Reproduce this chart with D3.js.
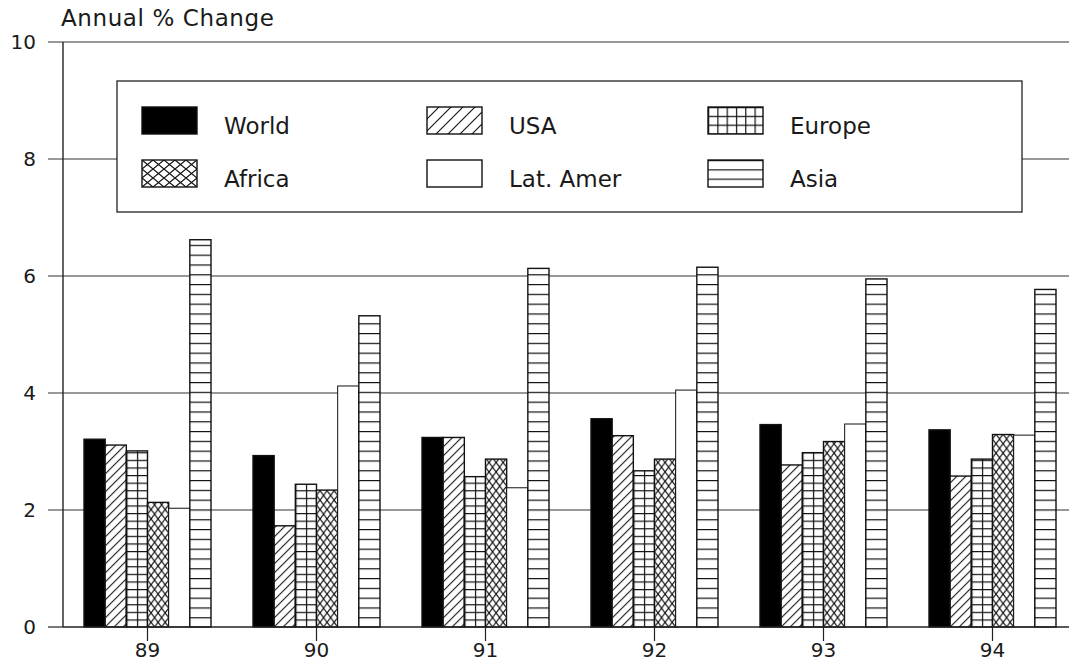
<!DOCTYPE html>
<html>
<head>
<meta charset="utf-8">
<script src="https://cdn.jsdelivr.net/npm/d3@7"></script>
<style>
  html, body { margin: 0; padding: 0; background: #fff; }
  svg { display: block; }
  text { font-family: "DejaVu Sans", Lato, sans-serif; font-weight: 400; fill: #1a1a1a; }
</style>
</head>
<body>
<svg id="chart" width="1069" height="670"></svg>
<script>
// Annual growth (% change) by region, 1989-1994
const years = ["89", "90", "91", "92", "93", "94"];
const series = ["World", "USA", "Europe", "Africa", "Lat. Amer", "Asia"];
const world   = [3.21, 2.93, 3.24, 3.56, 3.46, 3.37];
const usa     = [3.11, 1.73, 3.24, 3.27, 2.77, 2.58];
const europe  = [3.01, 2.44, 2.57, 2.67, 2.98, 2.87];
const africa  = [2.13, 2.34, 2.87, 2.87, 3.17, 3.29];
const latAmer = [2.03, 4.12, 2.38, 4.05, 3.47, 3.28];
const asia    = [6.62, 5.32, 6.13, 6.15, 5.95, 5.77];
const yTicks  = [0, 2, 4, 6, 8, 10];
const legendRows = [["World", "USA", "Europe"], ["Africa", "Lat. Amer", "Asia"]];

const valuesBySeries = {
  "World": world, "USA": usa, "Europe": europe,
  "Africa": africa, "Lat. Amer": latAmer, "Asia": asia
};
const fillKind = {
  "World": "solid", "USA": "diag", "Europe": "grid",
  "Africa": "cross", "Lat. Amer": "blank", "Asia": "hlines"
};

const svg = d3.select("#chart");
const W = 1069;
const plot = { left: 63, right: 1077, top: 42, bottom: 627 };

const y = d3.scaleLinear().domain([0, 10]).range([plot.bottom, plot.top]);
const x0 = d3.scaleBand().domain(years).range([plot.left, plot.right]).padding(0);
const groupW = 127;
const x1 = d3.scaleBand().domain(series)
  .range([(x0.bandwidth() - groupW) / 2, (x0.bandwidth() + groupW) / 2]).padding(0);

const defs = svg.append("defs");

// Build a hatch pattern anchored at (ox, oy) so the lines line up with the mark
function makePattern(id, kind, ox, oy, opt) {
  const p = defs.append("pattern")
    .attr("id", id)
    .attr("patternUnits", "userSpaceOnUse")
    .attr("x", ox).attr("y", oy);
  const stroke = "#111";
  if (kind === "diag") {
    const s = opt.period;
    p.attr("width", s).attr("height", s);
    p.append("rect").attr("width", s).attr("height", s).attr("fill", "#fff");
    p.append("path")
      .attr("d", `M0,${s} L${s},0 M${-s / 2},${s / 2} L${s / 2},${-s / 2} M${s / 2},${s * 1.5} L${s * 1.5},${s / 2}`)
      .attr("stroke", stroke).attr("stroke-width", 1.1);
  } else if (kind === "grid") {
    p.attr("width", opt.cw).attr("height", opt.ch);
    p.append("rect").attr("width", opt.cw).attr("height", opt.ch).attr("fill", "#fff");
    p.append("path")
      .attr("d", `M0.6,0 V${opt.ch} M0,0.6 H${opt.cw}`)
      .attr("stroke", stroke).attr("stroke-width", 1.2);
  } else if (kind === "cross") {
    p.attr("width", opt.cw).attr("height", opt.ch);
    p.append("rect").attr("width", opt.cw).attr("height", opt.ch).attr("fill", "#fff");
    p.append("path")
      .attr("d", `M0,0 L${opt.cw},${opt.ch} M${opt.cw},0 L0,${opt.ch}`)
      .attr("stroke", stroke).attr("stroke-width", 1.2);
  } else if (kind === "hlines") {
    p.attr("width", opt.cw).attr("height", opt.ch);
    p.append("rect").attr("width", opt.cw).attr("height", opt.ch).attr("fill", "#fff");
    p.append("path")
      .attr("d", `M0,0.6 H${opt.cw}`)
      .attr("stroke", stroke).attr("stroke-width", 1.2);
  }
  return `url(#${id})`;
}

function fillFor(kind, id, ox, oy, bw, legend) {
  if (kind === "solid") return "#000";
  if (kind === "blank") return "#fff";
  if (kind === "diag") return makePattern(id, kind, ox, oy, { period: legend ? 12 : 9 });
  if (kind === "grid") return makePattern(id, kind, ox, oy, legend ? { cw: 9.3, ch: 8.8 } : { cw: bw / 2, ch: 7.6 });
  if (kind === "cross") return makePattern(id, kind, ox, oy, legend ? { cw: 11, ch: 9 } : { cw: bw / 3, ch: 9.4 });
  if (kind === "hlines") return makePattern(id, kind, ox, oy, legend ? { cw: 60, ch: 9.3 } : { cw: bw, ch: 9.8 });
}

// Gridlines and y-axis ticks
const grid = svg.append("g");
grid.selectAll("line.grid")
  .data(yTicks.filter(t => t > 0))
  .join("line")
  .attr("x1", 48).attr("x2", W)
  .attr("y1", d => y(d)).attr("y2", d => y(d))
  .attr("stroke", "#333").attr("stroke-width", 1.2);

svg.append("g")
  .selectAll("text")
  .data(yTicks)
  .join("text")
  .attr("x", 36).attr("y", d => y(d))
  .attr("dy", "0.36em")
  .attr("text-anchor", "end")
  .attr("font-size", 20)
  .text(d => d);

svg.append("line")
  .attr("x1", 48).attr("x2", plot.left)
  .attr("y1", y(0)).attr("y2", y(0))
  .attr("stroke", "#222").attr("stroke-width", 1.2);

// Bars
const barsG = svg.append("g");
years.forEach((yr, i) => {
  series.forEach((s, j) => {
    const v = valuesBySeries[s][i];
    const bx = x0(yr) + x1(s);
    const bw = x1.bandwidth();
    const id = `pat-${i}-${j}`;
    const kind = fillKind[s];
    barsG.append("rect")
      .attr("x", bx).attr("y", y(v))
      .attr("width", bw).attr("height", y(0) - y(v))
      .attr("fill", fillFor(kind, id, bx, y(0), bw, false))
      .attr("stroke", "#111")
      .attr("stroke-width", kind === "blank" ? 1 : 1.4);
  });
});

// Axes lines
svg.append("line")
  .attr("x1", plot.left).attr("x2", plot.left)
  .attr("y1", y(10)).attr("y2", y(0))
  .attr("stroke", "#222").attr("stroke-width", 1.4);
svg.append("line")
  .attr("x1", plot.left).attr("x2", W)
  .attr("y1", y(0)).attr("y2", y(0))
  .attr("stroke", "#222").attr("stroke-width", 1.4);

// x-axis ticks and labels
const xAxisG = svg.append("g");
xAxisG.selectAll("line")
  .data(years)
  .join("line")
  .attr("x1", d => x0(d) + x0.bandwidth() / 2)
  .attr("x2", d => x0(d) + x0.bandwidth() / 2)
  .attr("y1", y(0)).attr("y2", y(0) + 14)
  .attr("stroke", "#222").attr("stroke-width", 1.2);
xAxisG.selectAll("text")
  .data(years)
  .join("text")
  .attr("x", d => x0(d) + x0.bandwidth() / 2)
  .attr("y", 657)
  .attr("text-anchor", "middle")
  .attr("font-size", 20)
  .text(d => d);

// Axis title
svg.append("text")
  .attr("x", 61).attr("y", 26)
  .attr("font-size", 23)
  .attr("letter-spacing", 0.6)
  .text("Annual % Change");

// Legend
const lg = svg.append("g");
lg.append("rect")
  .attr("x", 117).attr("y", 81)
  .attr("width", 905).attr("height", 131)
  .attr("fill", "#fff")
  .attr("stroke", "#222").attr("stroke-width", 1.3);

const colX = [142, 427, 708];
const rowY = [107, 160];
const swW = 55, swH = 27;
legendRows.forEach((row, r) => {
  row.forEach((s, c) => {
    const sx = colX[c], sy = rowY[r];
    const kind = fillKind[s];
    lg.append("rect")
      .attr("x", sx).attr("y", sy)
      .attr("width", swW).attr("height", swH)
      .attr("fill", fillFor(kind, `lg-${r}-${c}`, sx, sy, swW, true))
      .attr("stroke", "#111").attr("stroke-width", 1.4);
    lg.append("text")
      .attr("x", sx + 82).attr("y", sy + 27)
      .attr("font-size", 23)
      .text(s);
  });
});
</script>
</body>
</html>
